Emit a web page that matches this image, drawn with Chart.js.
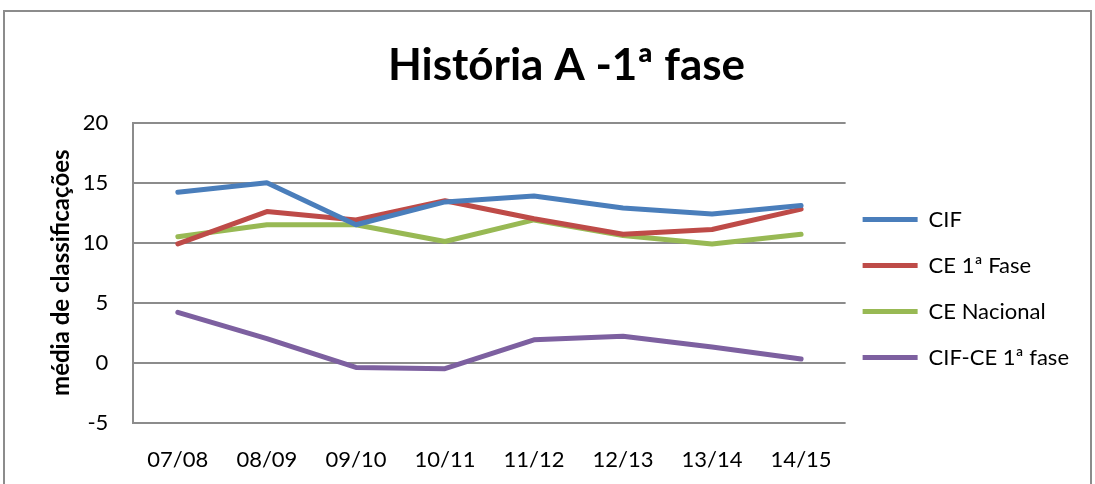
<!DOCTYPE html>
<html>
<head>
<meta charset="utf-8">
<script src="https://cdn.jsdelivr.net/npm/chart.js@4"></script>
<style>
  html, body { margin: 0; padding: 0; background: #fff; }
  #frame {
    position: absolute; left: 3px; top: 10px; width: 1089px; height: 480px;
    border: 2px solid #8c8c8c; border-bottom: none; box-sizing: border-box;
  }
  #wrap { position: absolute; left: 0; top: 0; width: 1095px; height: 484px; }
</style>
</head>
<body>
<div id="frame"></div>
<div id="wrap"><canvas id="chart"></canvas></div>
<script>
// Data
const categories = ['07/08', '08/09', '09/10', '10/11', '11/12', '12/13', '13/14', '14/15'];
const seriesNames = ['CIF', 'CE 1ª Fase', 'CE Nacional', 'CIF-CE 1ª fase'];
const cifValues = [14.2, 15.0, 11.5, 13.4, 13.9, 12.9, 12.4, 13.1];
const ce1Values = [9.9, 12.6, 11.9, 13.5, 12.0, 10.7, 11.1, 12.8];
const ceNacValues = [10.5, 11.5, 11.5, 10.1, 11.9, 10.6, 9.9, 10.7];
const diffValues = [4.2, 2.0, -0.4, -0.5, 1.9, 2.2, 1.3, 0.3];
const yTicks = [-5, 0, 5, 10, 15, 20];
const colors = ['#4a7ebb', '#be4b48', '#98b954', '#7d60a0'];

const FONT = 'Lato, Calibri, "Open Sans", sans-serif';

function makeSet(i, data) {
    return {
        label: seriesNames[i],
        data: data,
        borderColor: colors[i],
        backgroundColor: colors[i],
        borderWidth: 5,
        borderCapStyle: 'round',
        borderJoinStyle: 'round',
        pointRadius: 0,
        pointHoverRadius: 0,
        tension: 0
    };
}

// nudge the legend box so it sits like the original (closer to plot, lower)
const legendNudge = {
    id: 'legendNudge',
    afterLayout(chart) {
        const lg = chart.legend;
        if (!lg) return;
        lg.left -= 7; lg.right -= 7;
        lg.top += 33; lg.bottom += 33;
    }
};

new Chart(document.getElementById('chart'), {
    type: 'line',
    data: {
        labels: categories,
        datasets: [
            makeSet(0, cifValues),
            makeSet(1, ce1Values),
            makeSet(2, ceNacValues),
            makeSet(3, diffValues)
        ]
    },
    plugins: [legendNudge],
    options: {
        responsive: true,
        maintainAspectRatio: false,
        animation: false,
        // tick padding is counted twice in axis size, so bottom padding is pulled in
        layout: { padding: { left: 47, right: 9, top: 14, bottom: -13 } },
        plugins: {
            title: {
                display: true,
                text: 'História A -1ª fase',
                color: '#000',
                font: { family: FONT, size: 44, weight: 'bold' },
                padding: { top: 25, bottom: 31 }
            },
            legend: {
                position: 'right',
                align: 'center',
                labels: {
                    usePointStyle: true,
                    pointStyle: 'line',
                    pointStyleWidth: 55,
                    boxHeight: 5,
                    padding: 24,
                    color: '#000',
                    font: { family: FONT, size: 22 }
                }
            },
            tooltip: { enabled: false }
        },
        scales: {
            x: {
                offset: true,
                grid: { display: false, drawTicks: false },
                border: { display: false },
                ticks: {
                    color: '#000',
                    padding: 24,
                    maxRotation: 0,
                    font: { family: FONT, size: 22 }
                }
            },
            y: {
                min: -5,
                max: 20,
                afterBuildTicks: axis => { axis.ticks = yTicks.map(v => ({ value: v })); },
                grid: { color: '#8c8c8c', lineWidth: 2, drawTicks: false },
                border: { display: true, color: '#8c8c8c', width: 2 },
                ticks: {
                    color: '#000',
                    padding: 25,
                    font: { family: FONT, size: 22 }
                },
                title: {
                    display: true,
                    text: 'média de classificações',
                    color: '#000',
                    font: { family: FONT, size: 24, weight: 'bold' },
                    padding: { top: 0, bottom: -18 }
                }
            }
        }
    }
});
</script>
</body>
</html>
